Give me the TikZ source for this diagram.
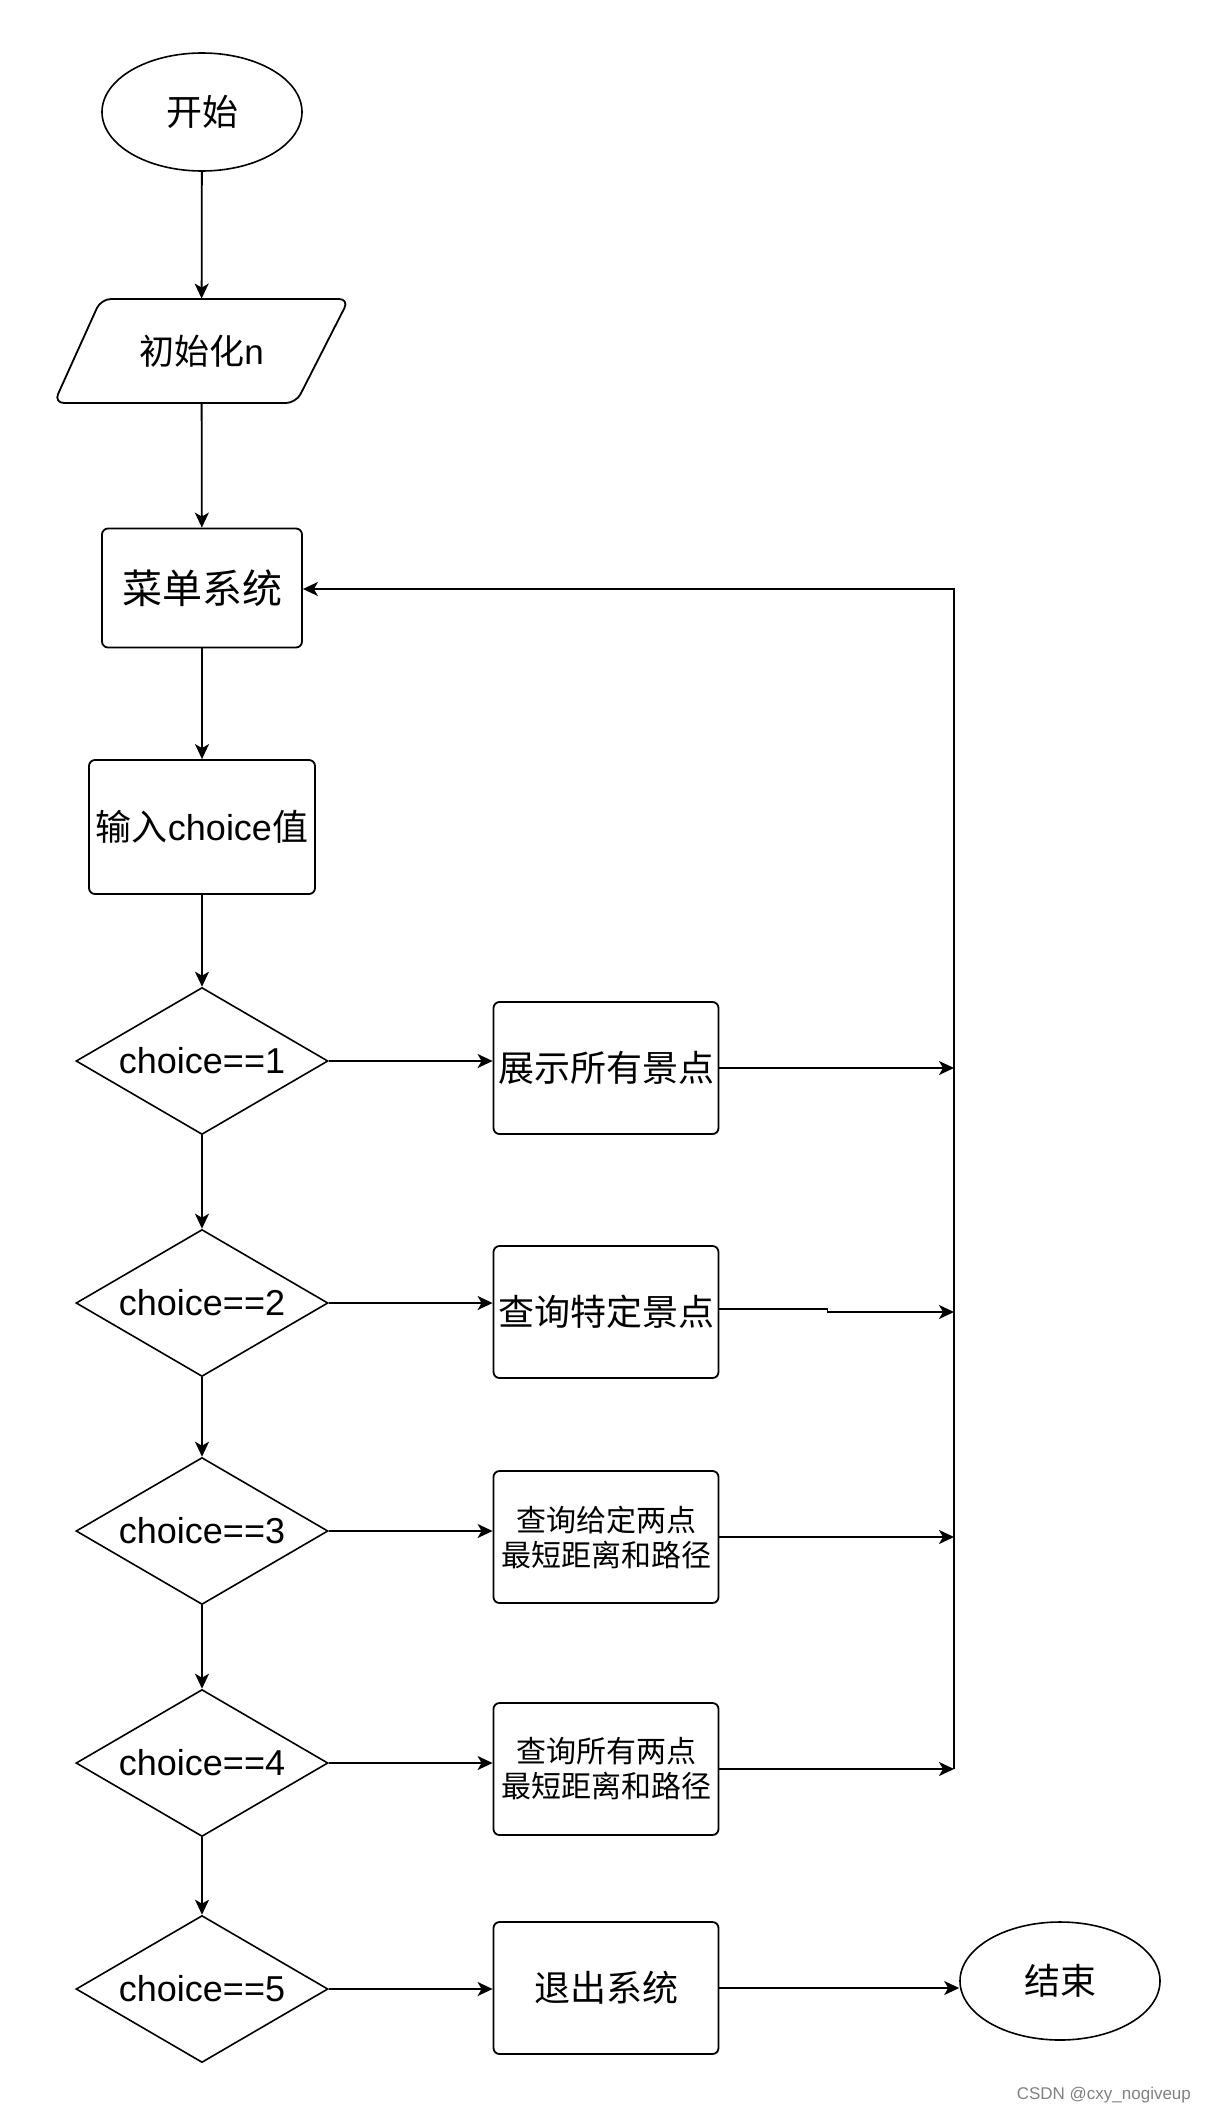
\documentclass[tikz,border=0pt]{standalone}
\usepackage{fontspec}
\setmainfont{Liberation Sans}
\newfontfamily\cjk{Noto Sans CJK SC}
\usetikzlibrary{shapes.geometric,arrows.meta,calc}
\begin{document}
\begin{tikzpicture}[x=0.5pt,y=-0.5pt,
  every node/.style={font=\fontsize{18pt}{22pt}\selectfont},
  box/.style={draw, rounded corners=3pt, line width=0.9pt, align=center, inner sep=2pt},
  rbox/.style={box, minimum width=112.5pt, minimum height=66pt},
  dia/.style={draw, diamond, shape aspect=1.714, minimum width=126pt, minimum height=73.5pt, inner sep=0pt, line width=0.8pt},
  term/.style={draw, ellipse, minimum width=100pt, minimum height=59pt, line width=0.8pt},
  arr/.style={-{Stealth[length=7.5pt,width=7pt,inset=2pt]}, line width=0.9pt},
  ln/.style={line width=0.9pt}]
\useasboundingbox (0,0) rectangle (1212,2114);

\node[term] (start) at (202,112) {\cjk 开始};
\draw[ln, rounded corners=5pt] (54,403) -- (296,403) -- (349,299) -- (101,299) -- cycle;
\node[minimum width=147.5pt, minimum height=52pt, inner sep=0pt, font=\fontsize{17.5pt}{20pt}\selectfont] (init) at (201.5,351) {{\cjk 初始化}n};
\node[box, minimum width=100pt, minimum height=59.5pt, font=\fontsize{20pt}{24pt}\selectfont] (menu) at (202,588) {\cjk 菜单系统};
\node[box, minimum width=113pt, minimum height=67pt] (input) at (202,827) {{\cjk 输入}choice{\cjk 值}};

\node[dia] (d1) at (202,1061) {choice==1};
\node[dia] (d2) at (202,1303) {choice==2};
\node[dia] (d3) at (202,1531) {choice==3};
\node[dia] (d4) at (202,1763) {choice==4};
\node[dia] (d5) at (202,1989) {choice==5};

\node[rbox] (b1) at (606,1068) {\cjk 展示所有景点};
\node[rbox] (b2) at (606,1312) {\cjk 查询特定景点};
\node[rbox, font=\fontsize{15pt}{17.5pt}\selectfont] (b3) at (606,1537) {\cjk 查询给定两点\\\cjk 最短距离和路径};
\node[rbox, font=\fontsize{15pt}{17.5pt}\selectfont] (b4) at (606,1769) {\cjk 查询所有两点\\\cjk 最短距离和路径};
\node[rbox] (b5) at (606,1988) {\cjk 退出系统};
\node[term] (end) at (1060,1981) {\cjk 结束};

\coordinate (vtop) at (954,589);
\coordinate (vbot) at (954,1769);

\draw[arr] (start) -- (init);
\draw[arr] (init) -- (menu);
\draw[arr] (menu) -- (input);
\draw[arr] (input) -- (d1);
\draw[arr] (d1) -- (d2);
\draw[arr] (d2) -- (d3);
\draw[arr] (d3) -- (d4);
\draw[arr] (d4) -- (d5);

\draw[arr] (d1.east) -- (d1.east -| b1.west);
\draw[arr] (d2.east) -- (d2.east -| b2.west);
\draw[arr] (d3.east) -- (d3.east -| b3.west);
\draw[arr] (d4.east) -- (d4.east -| b4.west);
\draw[arr] (d5.east) -- (d5.east -| b5.west);

\draw[arr] (b1.east) -- (b1.east -| vtop);
\draw[arr] ([yshift=1.5pt]b2.east) -- ++(108,0) |- (b2.east -| vtop);
\draw[arr] (b3.east) -- (b3.east -| vtop);
\draw[arr] (b4.east) -- (b4.east -| vtop);
\draw[arr] (vbot) -- (vtop) -- (vtop -| menu.east);
\draw[arr] (b5.east) -- (b5.east -| end.west);

\node[anchor=east, text=gray, font=\fontsize{8.5pt}{10pt}\selectfont] (wm) at (1198,2095) {CSDN @cxy\_nogiveup};
\end{tikzpicture}
\end{document}
